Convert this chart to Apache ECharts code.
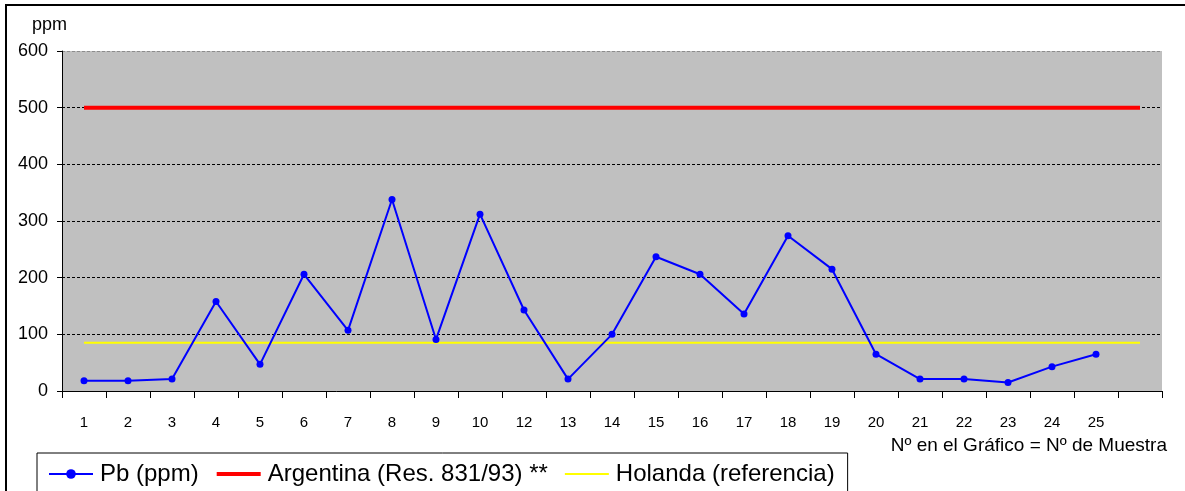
<!DOCTYPE html>
<html>
<head>
<meta charset="utf-8">
<script src="https://cdn.jsdelivr.net/npm/echarts@6/dist/echarts.min.js"></script>
<style>
  html, body { margin: 0; padding: 0; background: #fff; }
  #chart { width: 1185px; height: 491px; }
</style>
</head>
<body>
<div id="chart"></div>
<script>
// Sample numbers on the x axis (sample 11 is absent); the last slot is left empty
const categories = ['1','2','3','4','5','6','7','8','9','10','12','13','14','15','16','17','18','19','20','21','22','23','24','25',''];
// Lead concentration per sample, ppm
const pbValues = [18, 18, 21, 158, 47, 206, 107, 338, 91, 312, 143, 21, 100, 237, 206, 136, 274, 215, 65, 21, 21, 15, 43, 65, null];
// Reference limits, ppm
const argentinaLimit = 500;
const holandaLimit = 85;
const yTicks = [0, 100, 200, 300, 400, 500, 600];

const FONT = 'Liberation Sans, Arial, sans-serif';
const argentinaValues = categories.map(() => argentinaLimit);
const holandaValues = categories.map(() => holandaLimit);

const chart = echarts.init(document.getElementById('chart'), null, { renderer: 'canvas' });

chart.setOption({
  backgroundColor: '#ffffff',
  animation: false,
  textStyle: { fontFamily: FONT, color: '#000' },
  grid: {
    left: 62, right: 23, top: 51, bottom: 100,
    show: true, backgroundColor: '#C0C0C0', borderWidth: 0
  },
  graphic: [
    { type: 'rect', silent: true, z: 100,
      shape: { x: 6, y: 5, width: 1400, height: 700 },
      style: { fill: null, stroke: '#000', lineWidth: 2 } },
    { type: 'text', left: 32, top: 16,
      style: { text: 'ppm', font: '18px ' + FONT, fill: '#000' } },
    { type: 'text', right: 18, top: 436,
      style: { text: 'Nº en el Gráfico = Nº de Muestra', font: '19px ' + FONT, fill: '#000' } }
  ],
  legend: {
    left: 37, top: 453,
    orient: 'horizontal',
    padding: [9, 13, 20, 11],
    borderColor: '#000', borderWidth: 1,
    itemWidth: 44, itemHeight: 12, itemGap: 16,
    textStyle: { fontSize: 24, fontFamily: FONT, color: '#000', padding: [0, 0, 0, 2] },
    data: [
      { name: 'Pb (ppm)' },
      { name: 'Argentina (Res. 831/93) **', lineStyle: { width: 4 } },
      { name: 'Holanda (referencia)', lineStyle: { width: 2 } }
    ]
  },
  xAxis: {
    type: 'category',
    data: categories,
    boundaryGap: true,
    axisLine: { lineStyle: { color: '#000', width: 1 } },
    axisTick: { show: true, interval: 0, length: 7, lineStyle: { color: '#000' } },
    axisLabel: { interval: 0, fontSize: 15, color: '#000', margin: 24, fontFamily: FONT },
    splitLine: { show: false }
  },
  yAxis: {
    type: 'value',
    min: yTicks[0], max: yTicks[yTicks.length - 1], interval: 100,
    axisLine: { show: true, lineStyle: { color: '#000', width: 1 } },
    axisTick: { show: true, length: 5, lineStyle: { color: '#000' } },
    axisLabel: { fontSize: 18, color: '#000', margin: 14, fontFamily: FONT },
    splitLine: {
      show: true,
      lineStyle: {
        color: ['#000', '#000', '#000', '#000', '#000', '#000', '#8c8c8c'],
        type: [3, 2], width: 1
      }
    }
  },
  series: [
    {
      name: 'Pb (ppm)', type: 'line', data: pbValues,
      color: '#0000FF',
      lineStyle: { color: '#0000FF', width: 2 },
      itemStyle: { color: '#0000FF' },
      symbol: 'circle', symbolSize: 7, showSymbol: true,
      connectNulls: false, z: 5
    },
    {
      name: 'Argentina (Res. 831/93) **', type: 'line', data: argentinaValues,
      color: '#FF0000',
      lineStyle: { color: '#FF0000', width: 4 },
      itemStyle: { color: '#FF0000', opacity: 0 },
      symbol: 'none', z: 3
    },
    {
      name: 'Holanda (referencia)', type: 'line', data: holandaValues,
      color: '#FFFF00',
      lineStyle: { color: '#FFFF00', width: 2 },
      itemStyle: { color: '#FFFF00', opacity: 0 },
      symbol: 'none', z: 3
    }
  ]
});
</script>
</body>
</html>
